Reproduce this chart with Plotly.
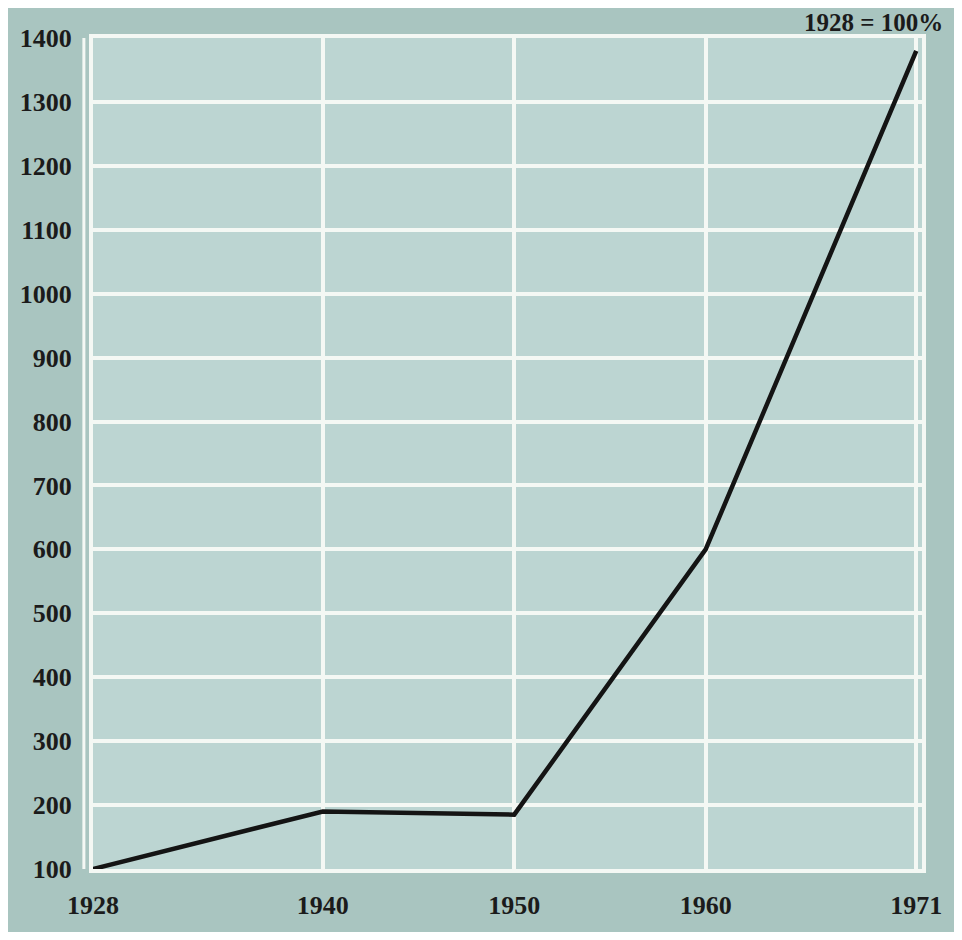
import plotly.graph_objects as go

# index, 1928 = 100%
years = [1928, 1940, 1950, 1960, 1971]
index_values = [100, 190, 185, 600, 1380]

x_ticks = [1928, 1940, 1950, 1960, 1971]
y_ticks = list(range(100, 1401, 100))

fig = go.Figure()
fig.add_trace(go.Scatter(
    x=years,
    y=index_values,
    mode="lines",
    line=dict(color="#141414", width=4.5),
    showlegend=False,
    hoverinfo="skip",
))

serif = "Liberation Serif, DejaVu Serif, serif"
text_font = dict(family=serif, size=26, color="#1b1b1b")

# page body has an 8px margin, so keep the figure a little smaller than the window
fig.update_layout(
    width=946,
    height=924,
    margin=dict(l=72, r=26, t=30, b=46),
    paper_bgcolor="#a9c5c0",
    plot_bgcolor="#bcd5d2",
    font=text_font,
    annotations=[dict(
        text="<b>1928 = 100%</b>",
        xref="paper", yref="paper",
        x=1.028, y=1.0, xanchor="right", yanchor="bottom",
        yshift=0, showarrow=False,
        font=dict(family=serif, size=25, color="#1b1b1b"),
    )],
    shapes=[dict(
        type="line", xref="paper", yref="paper",
        x0=-0.011, x1=-0.011, y0=0, y1=1,
        line=dict(color="#f4f8f4", width=3),
    )],
)

fig.update_xaxes(
    range=[1928, 1971.3],
    tickvals=x_ticks,
    ticktext=[f"<b>{t}</b>" for t in x_ticks],
    showgrid=True, gridcolor="#f4f8f4", gridwidth=4,
    showline=True, linecolor="#f4f8f4", linewidth=4, mirror=True,
    zeroline=False, ticks="", ticklabelstandoff=10,
)
fig.update_yaxes(
    range=[100, 1400],
    tickvals=y_ticks,
    ticktext=[f"<b>{t}</b>" for t in y_ticks],
    showgrid=True, gridcolor="#f4f8f4", gridwidth=4,
    showline=True, linecolor="#f4f8f4", linewidth=4, mirror=True,
    zeroline=False, ticks="", ticklabelstandoff=12,
)

fig.write_html("out.html")
